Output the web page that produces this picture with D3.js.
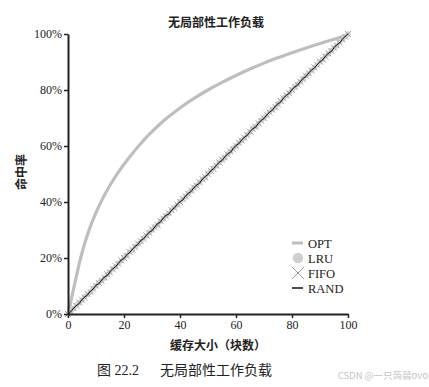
<!DOCTYPE html>
<html><head><meta charset="utf-8">
<script src="https://cdn.jsdelivr.net/npm/d3@7"></script>
<style>
html,body{margin:0;padding:0;background:#fff;}
svg{display:block;}
</style></head>
<body>
<svg id="c" width="429" height="387"></svg>
<script>
const title = "无局部性工作负载";
const xLabel = "缓存大小（块数）";
const yLabel = "命中率";
const caption = "图 22.2\u2003\u2002无局部性工作负载";
const watermark = "CSDN @一只蒟蒻ovo";
const xTicks = [0, 20, 40, 60, 80, 100];
const yTicks = [0, 20, 40, 60, 80, 100];
const legendNames = ["OPT", "LRU", "FIFO", "RAND"];

// OPT curve points (cache size, hit %)
const optSizes = [0, 1, 2, 3, 4, 5, 6, 8, 10, 12, 15, 18, 22, 26, 30, 35, 40, 45, 50, 55, 60, 65, 70, 75, 80, 85, 90, 95, 100];
const optHits  = [0, 4.5, 9.0, 13.5, 17.9, 21.8, 25.3, 31.3, 36.2, 40.5, 46, 50.7, 56.1, 60.9, 65.1, 69.7, 73.6, 77, 80, 82.7, 85.2, 87.5, 89.6, 91.5, 93.3, 95, 96.6, 98.1, 99.5];

// LRU / FIFO / RAND at every cache size 0..100
const cacheSizes = d3.range(0, 101);
const lruHits = [0, 1.1, 1.9, 3.2, 4.0, 4.9, 6.2, 7.0, 7.8, 9.1, 10.0, 11.2, 11.9, 12.8, 14.1, 15.0, 16.1, 16.9, 18.2, 18.9, 20.1, 21.0, 22.2, 22.8, 24.1, 25.0, 25.9, 27.2, 27.9, 29.1, 30.0, 31.2, 31.8, 33.1, 34.0, 35.1, 35.9, 37.2, 38.0, 38.9, 40.2, 41.0, 41.9, 43.1, 44.0, 45.2, 45.9, 47.1, 48.0, 48.8, 50.1, 51.0, 52.2, 52.9, 54.1, 55.0, 55.8, 57.1, 58.0, 59.2, 59.9, 61.1, 62.0, 62.8, 64.1, 65.0, 66.2, 66.9, 68.0, 69.1, 70.0, 70.9, 72.2, 73.0, 73.8, 75.1, 76.0, 77.2, 77.9, 79.0, 80.1, 81.0, 82.1, 82.9, 84.0, 85.2, 85.9, 87.1, 88.0, 88.9, 90.1, 91.0, 92.2, 92.9, 94.1, 95.0, 95.8, 97.1, 98.0, 99.1, 100];
const fifoHits = [0, 0.9, 2.2, 2.9, 4.1, 5.1, 5.8, 7.2, 7.9, 9.0, 10.1, 11.1, 11.8, 13.1, 14.2, 14.8, 16.0, 17.1, 17.9, 19.2, 20.0, 20.8, 22.1, 23.0, 23.9, 25.2, 26.0, 26.8, 28.1, 29.0, 30.2, 30.9, 31.8, 33.2, 34.1, 34.9, 36.0, 37.1, 37.8, 39.1, 40.0, 41.1, 42.0, 42.8, 44.1, 45.1, 45.8, 47.0, 48.2, 48.9, 50.0, 51.1, 51.8, 53.0, 54.1, 55.1, 55.9, 57.0, 58.1, 58.8, 60.1, 61.2, 61.9, 63.0, 63.9, 65.1, 66.0, 66.8, 68.2, 69.0, 69.9, 71.2, 72.0, 72.9, 74.0, 74.8, 76.1, 77.0, 78.1, 78.9, 80.0, 81.2, 81.9, 83.0, 83.8, 85.1, 86.0, 86.9, 88.1, 89.0, 90.1, 90.9, 91.8, 93.1, 94.0, 95.1, 95.9, 96.9, 98.1, 99.0, 100];
const randHits = [0, 0.8, 2.1, 3.0, 3.7, 5.2, 6.1, 6.8, 8.2, 8.9, 10.3, 10.8, 12.1, 13.2, 13.7, 15.1, 16.2, 16.8, 18.1, 19.3, 19.8, 21.2, 21.9, 23.1, 24.2, 24.8, 26.3, 26.9, 28.1, 29.2, 29.7, 31.1, 32.3, 32.8, 34.2, 35.3, 35.6, 37.1, 37.9, 39.2, 40.1, 40.7, 42.2, 43.1, 43.8, 45.2, 46.1, 46.7, 48.2, 49.1, 49.8, 51.2, 51.9, 53.1, 54.2, 54.8, 56.1, 57.2, 57.7, 59.1, 60.2, 60.8, 62.1, 63.2, 63.8, 65.1, 66.2, 66.7, 68.1, 69.2, 69.8, 71.1, 72.1, 72.8, 74.2, 75.1, 75.7, 77.2, 78.1, 78.8, 80.2, 81.1, 81.7, 83.1, 84.2, 84.8, 86.1, 87.2, 87.8, 89.1, 90.1, 90.8, 92.2, 93.1, 93.7, 95.1, 96.2, 96.8, 98.1, 99.2, 100];

const serif = "'Liberation Serif','Noto Sans CJK SC',serif";
const svg = d3.select("#c");
const x = d3.scaleLinear().domain([0, 100]).range([68, 348]);
const y = d3.scaleLinear().domain([0, 100]).range([314, 34]);

// OPT
svg.append("path")
  .datum(optSizes.map((s, i) => [s, optHits[i]]))
  .attr("fill", "none").attr("stroke", "#bebebe").attr("stroke-width", 3.2).attr("stroke-linecap", "round")
  .attr("d", d3.line().x(d => x(d[0])).y(d => y(d[1])).curve(d3.curveMonotoneX));

// LRU circles
svg.append("g").selectAll("circle").data(cacheSizes).join("circle")
  .attr("cx", d => x(d)).attr("cy", (d, i) => y(lruHits[i])).attr("r", 2.7)
  .attr("fill", "#d0d0d0");

// FIFO crosses
const xs = 3;
svg.append("g").selectAll("path").data(cacheSizes).join("path")
  .attr("d", (d, i) => {
    const cx = x(d), cy = y(fifoHits[i]);
    return `M${cx - xs},${cy - xs}L${cx + xs},${cy + xs}M${cx - xs},${cy + xs}L${cx + xs},${cy - xs}`;
  })
  .attr("stroke", "#999").attr("stroke-width", 0.8).attr("fill", "none");

// RAND line
svg.append("path")
  .datum(cacheSizes.map((s, i) => [s, randHits[i]]))
  .attr("fill", "none").attr("stroke", "#111").attr("stroke-width", 1)
  .attr("d", d3.line().x(d => x(d[0])).y(d => y(d[1])));

// Axes
const xAxis = svg.append("g").attr("transform", "translate(0,314)")
  .call(d3.axisBottom(x).tickValues(xTicks).tickSize(4).tickPadding(2).tickSizeOuter(0));
const yAxis = svg.append("g").attr("transform", "translate(68,0)")
  .call(d3.axisLeft(y).tickValues(yTicks).tickSize(4).tickPadding(2).tickSizeOuter(0).tickFormat(d => d + "%"));
[xAxis, yAxis].forEach(a => {
  a.select(".domain").attr("stroke", "#222").attr("stroke-width", 2);
  a.selectAll(".tick line").attr("stroke", "#222").attr("stroke-width", 1.5);
  a.selectAll(".tick text").attr("fill", "#222").style("font-family", serif).style("font-size", "12px");
});

// Title
svg.append("text").attr("x", 216).attr("y", 27).attr("text-anchor", "middle")
  .style("font-family", serif).style("font-size", "12px").style("font-weight", "bold").attr("fill", "#222")
  .text(title);
// X label
svg.append("text").attr("x", 218).attr("y", 350).attr("text-anchor", "middle")
  .style("font-family", serif).style("font-size", "12px").style("font-weight", "bold").attr("fill", "#222")
  .text(xLabel);
// Y label
svg.append("text").attr("transform", "translate(26,172) rotate(-90)").attr("text-anchor", "middle")
  .style("font-family", serif).style("font-size", "12px").style("font-weight", "bold").attr("fill", "#222")
  .text(yLabel);
// Caption
svg.append("text").attr("x", 97).attr("y", 375)
  .style("font-family", serif).style("font-size", "14px").attr("fill", "#222")
  .text(caption);
// Watermark
svg.append("text").attr("x", 428).attr("y", 379).attr("text-anchor", "end")
  .style("font-family", "'Noto Sans CJK SC',sans-serif").style("font-size", "9.5px").attr("fill", "#c4c4c4")
  .text(watermark);

// Legend
const lg = svg.append("g");
const rows = [243, 258, 273, 288];
legendNames.forEach((name, i) => {
  const cy = rows[i];
  if (i === 0) lg.append("line").attr("x1", 292).attr("x2", 303).attr("y1", cy).attr("y2", cy).attr("stroke", "#bdbdbd").attr("stroke-width", 3);
  if (i === 1) lg.append("circle").attr("cx", 298).attr("cy", cy).attr("r", 5.2).attr("fill", "#cfcfcf");
  if (i === 2) lg.append("path").attr("d", `M292,${cy - 6}L304,${cy + 6}M292,${cy + 6}L304,${cy - 6}`).attr("stroke", "#8c8c8c").attr("stroke-width", 0.9).attr("fill", "none");
  if (i === 3) lg.append("line").attr("x1", 292).attr("x2", 303).attr("y1", cy).attr("y2", cy).attr("stroke", "#111").attr("stroke-width", 1.5);
  lg.append("text").attr("x", 308).attr("y", cy + 4.5)
    .style("font-family", serif).style("font-size", "12.5px").attr("fill", "#222").text(name);
});
</script>
</body></html>
